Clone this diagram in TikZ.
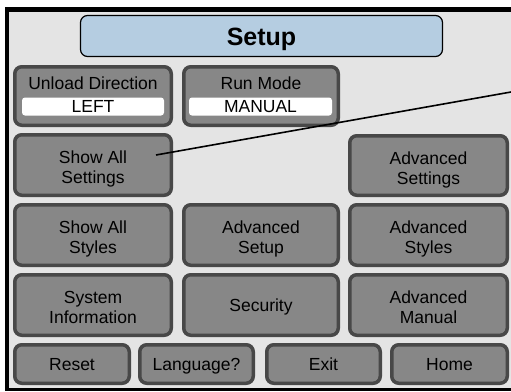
\documentclass[tikz,border=0pt]{standalone}
\usepackage{fontspec}
\setmainfont{Liberation Sans}
\usepackage{xcolor}
\usepackage{tikz}

\definecolor{screenbg}{HTML}{E4E4E4}
\definecolor{btnfill}{HTML}{878787}
\definecolor{btnedge}{HTML}{484848}
\definecolor{titlefill}{HTML}{B5CDE1}

\tikzset{
  btn/.style={draw=btnedge, fill=btnfill, line width=3.5pt, rounded corners=7pt,
    align=center, inner sep=0pt, text height=37.5pt, text depth=0pt,
    font=\fontsize{17.5}{20}\selectfont},
  btnone/.style={btn, text height=12.5pt},
  field/.style={fill=white, rounded corners=3pt, inner sep=0pt,
    text height=12.5pt, text depth=0pt, font=\fontsize{17.5}{20}\selectfont},
  caption/.style={inner sep=0pt, text height=12.5pt, text depth=0pt,
    font=\fontsize{17.5}{20}\selectfont}
}

\begin{document}
\begin{tikzpicture}[x=1pt,y=-1pt]
  \useasboundingbox (0,0) rectangle (511,391);

  % Screen frame
  \fill[black] (5,7) rectangle (511,391);
  \fill[screenbg] (9,12) rectangle (511,388);

  % Title bar
  \node[draw=black, fill=titlefill, line width=1.2pt, rounded corners=7pt,
    minimum width=362pt, minimum height=41pt, inner sep=0pt,
    text height=18pt, text depth=0pt,
    font=\fontsize{25}{28}\selectfont\bfseries] (title) at (261.5,36) {Setup};

  % Selector buttons
  \node[btnone, minimum width=156.5pt, minimum height=58.5pt] (unload) at (93,96) {};
  \node[caption] (unloadlbl) at (93,83.5) {Unload Direction};
  \node[field, minimum width=142pt, minimum height=18pt] (unloadval) at (93,106.5) {LEFT};

  \node[btnone, minimum width=154.5pt, minimum height=58.5pt] (runmode) at (261,96) {};
  \node[caption] (runmodelbl) at (261,83.5) {Run Mode};
  \node[field, minimum width=143pt, minimum height=18pt] (runmodeval) at (260.5,106.5) {MANUAL};

  % Settings buttons
  \node[btn, minimum width=156.5pt, minimum height=60.5pt] (showsettings) at (93,165) {Show All\\Settings};
  \node[btn, minimum width=157.5pt, minimum height=59.5pt] (advsettings) at (428.5,165.5) {Advanced\\Settings};

  \node[btn, minimum width=156.5pt, minimum height=60.5pt] (showstyles) at (93,235) {Show All\\Styles};
  \node[btn, minimum width=154.5pt, minimum height=60.5pt] (advsetup) at (261,235) {Advanced\\Setup};
  \node[btn, minimum width=157.5pt, minimum height=60.5pt] (advstyles) at (428.5,235) {Advanced\\Styles};

  \node[btn, minimum width=156.5pt, minimum height=60.5pt] (sysinfo) at (93,305) {System\\Information};
  \node[btnone, minimum width=154.5pt, minimum height=60.5pt] (security) at (261,305) {Security};
  \node[btn, minimum width=157.5pt, minimum height=60.5pt] (advmanual) at (428.5,305) {Advanced\\Manual};

  % Bottom row
  \node[btnone, minimum width=114.5pt, minimum height=38.5pt] (reset) at (72,364) {Reset};
  \node[btnone, minimum width=113.5pt, minimum height=38.5pt] (language) at (196.5,364) {Language?};
  \node[btnone, minimum width=113.5pt, minimum height=38.5pt] (exit) at (323.5,364) {Exit};
  \node[btnone, minimum width=115.5pt, minimum height=38.5pt] (home) at (449.5,364) {Home};

  % Callout line
  \coordinate (pointer) at (156,155);
  \coordinate (callout) at (511,92);
  \draw[line width=1.6pt] (pointer) -- (callout);
\end{tikzpicture}
\end{document}
